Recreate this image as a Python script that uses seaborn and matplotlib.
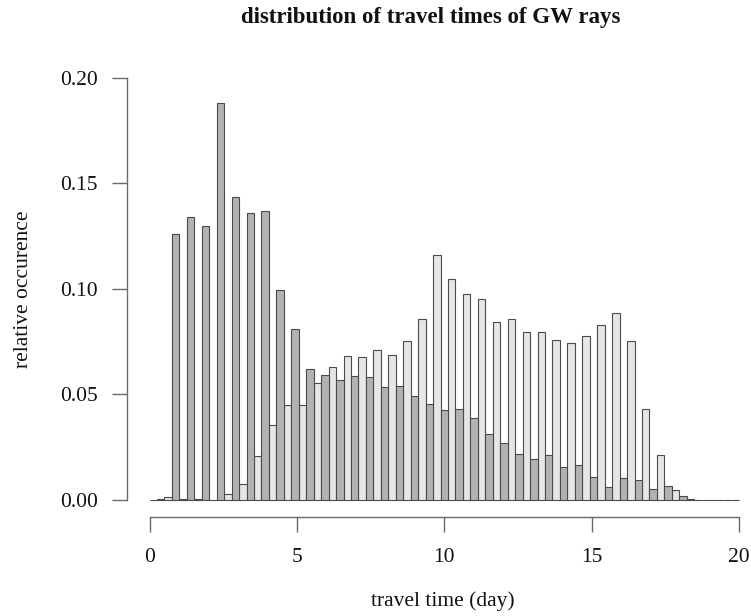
import numpy as np
import pandas as pd
import matplotlib
matplotlib.use("Agg")
import matplotlib.pyplot as plt
import seaborn as sns

# Interleaved bars (light = even index, dark = odd index), 79 bars spanning 0..20 days
light_vals = [0.0, 0.0014, 0.0005, 0.0005, 0.0, 0.0028, 0.0074, 0.0207, 0.0354, 0.0449,
              0.0450, 0.0554, 0.0630, 0.0682, 0.0676, 0.0709, 0.0688, 0.0753, 0.0856, 0.1159,
              0.1047, 0.0974, 0.0952, 0.0843, 0.0857, 0.0794, 0.0797, 0.0756, 0.0742, 0.0775,
              0.0828, 0.0884, 0.0752, 0.0430, 0.0215, 0.0047, 0.0005, 0.0, 0.0, 0.0]
dark_vals = [0.0003, 0.1260, 0.1340, 0.1300, 0.1880, 0.1437, 0.1358, 0.1370, 0.0995, 0.0809,
             0.0622, 0.0592, 0.0568, 0.0587, 0.0581, 0.0535, 0.0540, 0.0493, 0.0456, 0.0425,
             0.0430, 0.0387, 0.0313, 0.0268, 0.0216, 0.0194, 0.0215, 0.0155, 0.0166, 0.0107,
             0.0063, 0.0103, 0.0093, 0.0051, 0.0066, 0.0020, 0.0, 0.0, 0.0]
x_ticks = [0, 5, 10, 15, 20]
y_ticks = [0.00, 0.05, 0.10, 0.15, 0.20]
y_tick_labels = ["0.00", "0.05", "0.10", "0.15", "0.20"]

n_bars = len(light_vals) + len(dark_vals)
w = 20.0 / n_bars
rows = []
for i, v in enumerate(light_vals):
    idx = 2 * i
    rows.append({"pos": (idx + 0.5) * w, "value": v, "series": "light"})
for i, v in enumerate(dark_vals):
    idx = 2 * i + 1
    rows.append({"pos": (idx + 0.5) * w, "value": v, "series": "dark"})
df = pd.DataFrame(rows).sort_values("pos").reset_index(drop=True)

sns.set_style("white")
plt.rcParams["font.family"] = ["Liberation Serif", "DejaVu Serif"]

W, H = 751, 616
fig = plt.figure(figsize=(W / 100, H / 100), dpi=100)
left_px, right_px, bottom_px, top_px = 127, 745, 517.3, 65
ax = fig.add_axes([left_px / W, (H - bottom_px) / H, (right_px - left_px) / W, (bottom_px - top_px) / H])

sns.barplot(data=df, x="pos", y="value", hue="series", native_scale=True, dodge=False,
            width=1.0, palette={"light": "#e6e6e6", "dark": "#b2b2b2"},
            edgecolor="#4a4a4a", linewidth=0.8, legend=False, ax=ax, errorbar=None)
for p in ax.patches:
    p.set_clip_on(False)

# pixel mapping: day 0 -> 149.5 px, day 20 -> 739 px; value 0 -> 500 px, 0.2 -> 77.7 px
ppd = (739 - 149.5) / 20
ax.set_xlim(-(149.5 - left_px) / ppd, 20 + (right_px - 739) / ppd)
ppv = (500 - 77.7) / 0.2
ax.set_ylim(-(bottom_px - 500) / ppv, (500 - top_px) / ppv)

for s in ["top", "right"]:
    ax.spines[s].set_visible(False)
for s in ["left", "bottom"]:
    ax.spines[s].set_color("#6a6a6a")
    ax.spines[s].set_linewidth(1.0)
ax.spines["bottom"].set_bounds(0, 20)
ax.spines["left"].set_bounds(0, 0.2)

ax.set_xticks(x_ticks)
ax.set_xticklabels([str(t) for t in x_ticks])
ax.set_yticks(y_ticks)
ax.set_yticklabels(y_tick_labels)
ax.tick_params(axis="both", which="major", direction="out", length=11, width=1.0,
               color="#6a6a6a", labelsize=15.5, labelcolor="#111111")
ax.tick_params(axis="x", pad=11)
ax.tick_params(axis="y", pad=10)
ax.xaxis.set_ticks_position("bottom")
ax.yaxis.set_ticks_position("left")
ax.set_xlabel("")
ax.set_ylabel("")
ax.grid(False)

fig.text(431 / W, 1 - 18 / H, "distribution of travel times of GW rays", ha="center", va="center",
         fontsize=16.5, fontweight="bold", color="#111111")
fig.text(443 / W, 1 - 601 / H, "travel time (day)", ha="center", va="center",
         fontsize=15.5, color="#111111")
fig.text(24 / W, 1 - 289 / H, "relative occurence", ha="center", va="center",
         rotation=90, fontsize=15.5, color="#111111")

fig.savefig("out.png", dpi=100)
